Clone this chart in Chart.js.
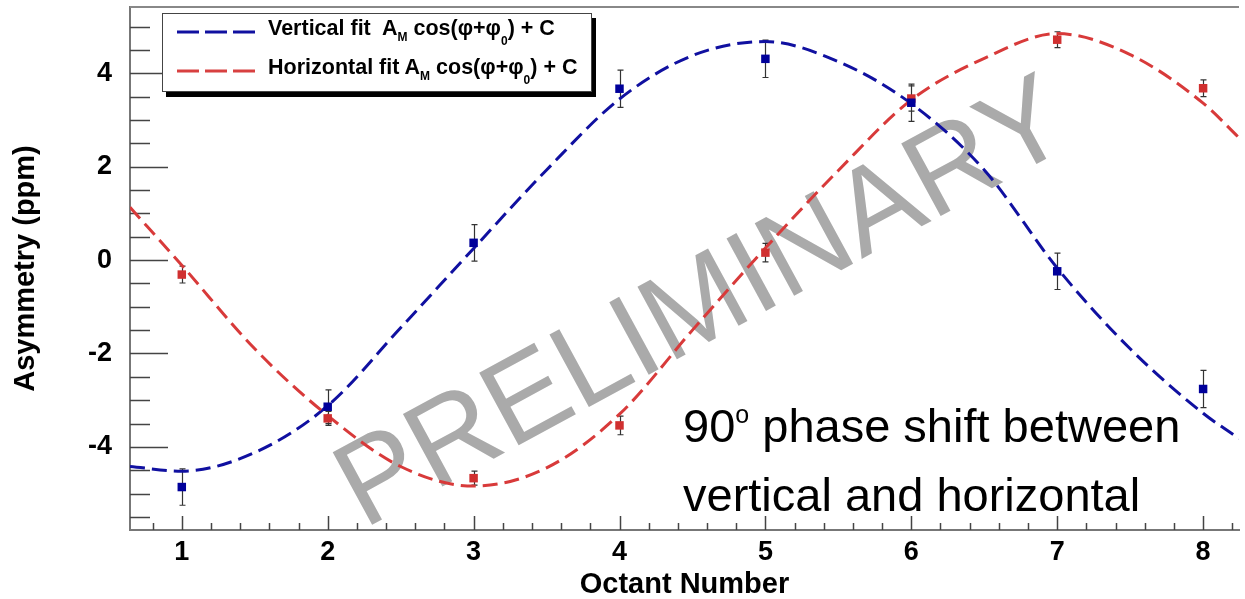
<!DOCTYPE html>
<html>
<head>
<meta charset="utf-8">
<script src="https://cdn.jsdelivr.net/npm/chart.js@4.4.1/dist/chart.umd.min.js"></script>
<style>
html, body { margin: 0; padding: 0; background: #fff; }
#marco { position: relative; width: 1245px; height: 599px; overflow: hidden; font-family: "Liberation Sans", Arial, sans-serif; }
#graf { position: absolute; left: 0; top: 0; z-index: 1; }
#marca { position: absolute; left: 700px; top: 299px; transform: translate(-50%, -50%) rotate(-28.5deg);
  font-size: 120px; color: #aaa; white-space: nowrap; line-height: normal; z-index: 0; }
#leyenda { position: absolute; left: 162px; top: 13px; width: 428px; height: 77px; border: 1px solid #444;
  background: #fff; box-shadow: 4px 5px 0 #000; z-index: 2; }
#leyenda svg { position: absolute; left: 14px; }
#leyenda .txt { position: absolute; left: 105px; font-weight: bold; font-size: 21.5px; line-height: 21px; white-space: nowrap; color: #000; }
#leyenda .sm { font-size: 12px; vertical-align: -6px; line-height: 0; }
#leyenda .s0 { font-size: 12px; vertical-align: -10px; line-height: 0; }
#nota { position: absolute; left: 683px; top: 395px; font-size: 47px; line-height: 61px; color: #000; white-space: nowrap; z-index: 2; }
#nota .sup { font-size: 25px; position: relative; top: -19px; }
</style>
</head>
<body>
<div id="marco">
  <div id="marca">PRELIMINARY</div>
  <canvas id="graf" width="1245" height="599"></canvas>
  <div id="leyenda">
    <svg width="80" height="6" style="top:15px"><line x1="0" y1="3" x2="78" y2="3" stroke="#1010a0" stroke-width="3" stroke-dasharray="22 6"/></svg>
    <div class="txt" style="top:4px">Vertical fit&nbsp; A<span class="sm">M</span> cos(φ+φ<span class="s0">0</span>) + C</div>
    <svg width="80" height="6" style="top:54px"><line x1="0" y1="3" x2="78" y2="3" stroke="#d84040" stroke-width="3" stroke-dasharray="22 6"/></svg>
    <div class="txt" style="top:43px">Horizontal fit A<span class="sm">M</span> cos(φ+φ<span class="s0">0</span>) + C</div>
  </div>
  <div id="nota">90<span class="sup">o</span> phase shift between<br>vertical and horizontal</div>
</div>
<script>
// medidas por octante (ppm)
var octantes = [1, 2, 3, 4, 5, 6, 7, 8];
var vertical = [-4.86, -3.14, 0.37, 3.67, 4.31, 3.37, -0.24, -2.76];
var verticalErr = [0.39, 0.36, 0.39, 0.40, 0.40, 0.40, 0.39, 0.40];
var horizontal = [-0.31, -3.39, -4.67, -3.54, 0.16, 3.46, 4.72, 3.68];
var horizontalErr = [0.18, 0.15, 0.15, 0.20, 0.20, 0.27, 0.17, 0.18];

// curvas de ajuste
var ajusteX = [0.645, 1, 1.5, 2, 2.5, 3, 3.5, 4, 4.5, 5, 5.5, 6, 6.5, 7, 7.5, 8, 8.246];
var ajusteVertical = [-4.42, -4.52, -4.12, -3.12, -1.45, 0.25, 1.93, 3.45, 4.38, 4.68, 4.25, 3.35, 1.93, -0.17, -1.9, -3.28, -3.82];
var ajusteHorizontal = [1.13, -0.11, -1.9, -3.33, -4.42, -4.84, -4.45, -3.3, -1.5, 0.26, 1.92, 3.43, 4.32, 4.85, 4.4, 3.36, 2.62];

var ticksX = [1, 2, 3, 4, 5, 6, 7, 8];
var ticksY = [-4, -2, 0, 2, 4];

function puntos(xs, ys) {
  return xs.map(function (x, i) { return { x: x, y: ys[i] }; });
}

var barrasError = {
  id: 'barrasError',
  beforeDatasetsDraw: function (chart) {
    var c = chart.ctx, sx = chart.scales.x, sy = chart.scales.y;
    var series = [[vertical, verticalErr], [horizontal, horizontalErr]];
    c.save();
    c.strokeStyle = '#333';
    c.lineWidth = 1.2;
    c.beginPath();
    series.forEach(function (s) {
      octantes.forEach(function (o, i) {
        var px = Math.round(sx.getPixelForValue(o)) + 0.5;
        var y1 = sy.getPixelForValue(s[0][i] + s[1][i]);
        var y2 = sy.getPixelForValue(s[0][i] - s[1][i]);
        c.moveTo(px, y1); c.lineTo(px, y2);
        c.moveTo(px - 3, y1); c.lineTo(px + 3, y1);
        c.moveTo(px - 3, y2); c.lineTo(px + 3, y2);
      });
    });
    c.stroke();
    c.restore();
  }
};

var marcas = {
  id: 'marcas',
  beforeDatasetsDraw: function (chart) {
    var c = chart.ctx, a = chart.chartArea, sx = chart.scales.x, sy = chart.scales.y;
    c.save();
    c.strokeStyle = '#888';
    c.lineWidth = 2;
    c.beginPath();
    c.moveTo(a.left, a.top); c.lineTo(a.right, a.top);
    c.stroke();
    c.strokeStyle = '#444';
    c.lineWidth = 1.5;
    c.beginPath();
    for (var k = Math.ceil(sy.min * 2); k <= Math.floor(sy.max * 2); k++) {
      var py = Math.round(sy.getPixelForValue(k / 2)) + 0.5;
      var ly = (k % 4 === 0) ? 38 : 20;
      c.moveTo(a.left, py); c.lineTo(a.left + ly, py);
    }
    for (var j = Math.ceil(sx.min * 5); j <= Math.floor(sx.max * 5); j++) {
      var px = Math.round(sx.getPixelForValue(j / 5)) + 0.5;
      var lx = (j % 5 === 0) ? 14 : 7;
      c.moveTo(px, a.bottom); c.lineTo(px, a.bottom - lx);
    }
    c.stroke();
    c.restore();
  }
};

var ctx = document.getElementById('graf').getContext('2d');
var chart = new Chart(ctx, {
  type: 'line',
  data: {
    datasets: [{
      label: 'Vertical fit',
      data: puntos(ajusteX, ajusteVertical),
      borderColor: '#1010a0',
      borderWidth: 3,
      borderDash: [15, 7],
      pointRadius: 0,
      cubicInterpolationMode: 'monotone',
      fill: false,
      order: 3
    }, {
      label: 'Horizontal fit',
      data: puntos(ajusteX, ajusteHorizontal),
      borderColor: '#d83a3a',
      borderWidth: 3,
      borderDash: [15, 7],
      pointRadius: 0,
      cubicInterpolationMode: 'monotone',
      fill: false,
      order: 2
    }, {
      label: 'Vertical',
      data: puntos(octantes, vertical),
      showLine: false,
      pointStyle: 'rect',
      pointRadius: 6,
      pointBorderWidth: 0,
      pointBackgroundColor: '#00009a',
      order: 1
    }, {
      label: 'Horizontal',
      data: puntos(octantes, horizontal),
      showLine: false,
      pointStyle: 'rect',
      pointRadius: 6,
      pointBorderWidth: 0,
      pointBackgroundColor: '#d03030',
      order: 1
    }]
  },
  options: {
    responsive: false,
    animation: false,
    devicePixelRatio: 1,
    layout: { padding: { top: 7, left: 0, right: 0, bottom: 0 } },
    plugins: { legend: { display: false }, tooltip: { enabled: false } },
    scales: {
      x: {
        type: 'linear',
        min: 0.645,
        max: 8.246,
        afterBuildTicks: function (axis) { axis.ticks = ticksX.map(function (v) { return { value: v }; }); },
        afterFit: function (s) { s.height = 69; s.paddingLeft = 0; s.paddingRight = 0; },
        grid: { display: false },
        border: { display: true, color: '#777', width: 2 },
        ticks: { color: '#000', padding: -2, font: { family: 'Liberation Sans', size: 27, weight: 'bold' } },
        title: { display: true, text: 'Octant Number', color: '#000', padding: 0,
          font: { family: 'Liberation Sans', size: 29, weight: 'bold', lineHeight: 1 } }
      },
      y: {
        min: -5.78,
        max: 5.42,
        afterBuildTicks: function (axis) { axis.ticks = ticksY.map(function (v) { return { value: v }; }); },
        afterFit: function (s) { s.width = 130; s.paddingTop = 0; s.paddingBottom = 0; },
        grid: { display: false },
        border: { display: true, color: '#777', width: 2 },
        ticks: { color: '#000', padding: 10, font: { family: 'Liberation Sans', size: 27, weight: 'bold' } },
        title: { display: true, text: 'Asymmetry (ppm)', color: '#000', padding: { top: 11, bottom: 0 },
          font: { family: 'Liberation Sans', size: 29, weight: 'bold', lineHeight: 1 } }
      }
    }
  },
  plugins: [marcas, barrasError]
});
</script>
</body>
</html>
